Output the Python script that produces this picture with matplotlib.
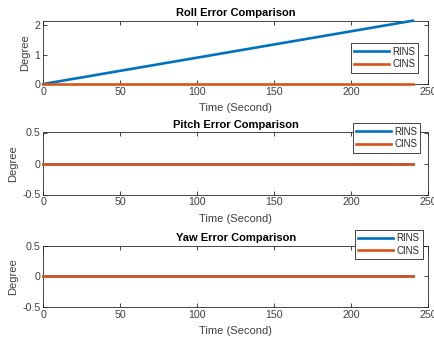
import matplotlib
matplotlib.use("Agg")
import matplotlib.pyplot as plt

# error histories (deg) over the 240 s run
t = [0.0, 240.0]
roll_rins = [0.0, 2.15]
roll_cins = [0.0, 0.0]
pitch_rins = [0.0, 0.0]
pitch_cins = [0.0, 0.0]
yaw_rins = [0.0, 0.0]
yaw_cins = [0.0, 0.0]

titles = ["Roll Error Comparison", "Pitch Error Comparison", "Yaw Error Comparison"]
series = [(roll_rins, roll_cins), (pitch_rins, pitch_cins), (yaw_rins, yaw_cins)]
xticks = [0, 50, 100, 150, 200, 250]

plt.rcParams["font.family"] = ["Liberation Sans", "DejaVu Sans"]
C_RINS = "#0072BD"
C_CINS = "#D95319"
INK = "#262626"
LBL = "#404040"

W, H = 435.0, 340.0
fig = plt.figure(figsize=(W / 100, H / 100), dpi=100)

# axes boxes in pixels: (top, bottom)
boxes = [(20.7, 84.0), (132.5, 194.5), (245.5, 307.0)]
left_px, right_px = 43.3, 428.3
legend_anchor = [(350.7, 43.3), (352.7, 123.3), (355.0, 230.0)]

for i, (title, (rins, cins)) in enumerate(zip(titles, series)):
    top, bot = boxes[i]
    ax = fig.add_axes([left_px / W, 1 - bot / H, (right_px - left_px) / W, (bot - top) / H])
    ax.plot(t, rins, color=C_RINS, lw=1.9, label="RINS", clip_on=False, zorder=3)
    ax.plot(t, cins, color=C_CINS, lw=1.9, label="CINS", clip_on=False, zorder=3)
    ax.set_xlim(0, 250)
    if i == 0:
        ax.set_ylim(0, max(rins))
        ax.set_yticks([0, 1, 2])
    else:
        ax.set_ylim(-0.5, 0.5)
        ax.set_yticks([-0.5, 0, 0.5])
        ax.set_yticklabels(["-0.5", "0", "0.5"])
    ax.set_xticks(xticks)
    ax.tick_params(direction="in", top=True, right=True, length=3, width=0.6,
                   labelsize=7.7, colors=INK, labelcolor=LBL, pad=2)
    for s in ax.spines.values():
        s.set_color(INK)
        s.set_linewidth(0.6)
    ax.set_title(title, fontsize=8, fontweight="bold", color="black", pad=3.5)
    ax.set_xlabel("Time (Second)", fontsize=8, color=LBL, labelpad=4.5)
    ax.set_ylabel("Degree", fontsize=8, color=LBL, labelpad=3)
    lx, ly = legend_anchor[i]
    leg = ax.legend(loc="upper left", bbox_to_anchor=(lx / W, 1 - ly / H),
                    bbox_transform=fig.transFigure, fontsize=7, frameon=True,
                    fancybox=False, handlelength=3.6, handletextpad=0.3,
                    borderpad=0.35, labelspacing=0.25, borderaxespad=0)
    leg.set_zorder(5)
    leg.get_frame().set_edgecolor(INK)
    leg.get_frame().set_linewidth(0.6)
    leg.get_frame().set_alpha(1)
    for txt in leg.get_texts():
        txt.set_color(INK)

fig.savefig("out.png", dpi=100)
